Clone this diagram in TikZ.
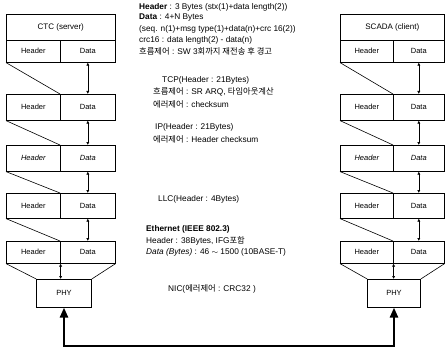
\documentclass[tikz,border=0pt]{standalone}
\usepackage{fontspec}
\setmainfont{Liberation Sans}
\newfontfamily\kr{Noto Sans CJK KR}
\usetikzlibrary{arrows.meta}
\begin{document}
\begin{tikzpicture}[x=1pt,y=-1pt,
  cell/.style={draw, line width=0.6pt, inner sep=0pt, anchor=north west, font=\fontsize{7.5}{8}\selectfont},
  info/.style={anchor=west, inner sep=0pt, font=\fontsize{8.3}{9}\selectfont},
  link/.style={line width=0.6pt},
  dbl/.style={line width=0.6pt, {Latex[length=3pt,width=3.2pt]}-{Latex[length=3pt,width=3.2pt]}},
  wire/.style={line width=2.4pt, {Triangle[length=10pt,width=8pt]}-{Triangle[length=10pt,width=8pt]}}
]
\useasboundingbox (0,0) rectangle (445,353);
% titles
\node[cell, minimum width=109, minimum height=26, font=\fontsize{8}{9}\selectfont] (ltitle) at (6,14) {CTC (server)};
\node[cell, minimum width=104, minimum height=26, font=\fontsize{8}{9}\selectfont] (rtitle) at (340,14) {SCADA (client)};
% rows
\foreach \i/\t/\h/\f in {1/40/22/\upshape,2/94/26/\upshape,3/145/26/\itshape,4/193/25/\upshape,5/241/22/\upshape} {
  \node[cell, minimum width=54, minimum height=\h] (lh\i) at (6,\t) {\f Header};
  \node[cell, minimum width=55, minimum height=\h] (ld\i) at (60,\t) {\f Data};
  \node[cell, minimum width=53, minimum height=\h] (rh\i) at (340,\t) {\f Header};
  \node[cell, minimum width=51, minimum height=\h] (rd\i) at (393,\t) {\f Data};
}
% PHY
\node[cell, anchor=north, minimum width=55, minimum height=28] (lphy) at (64,279) {PHY};
\node[cell, anchor=north, minimum width=53, minimum height=28] (rphy) at (394,279) {PHY};
% connectors between rows
\foreach \i [evaluate=\i as \j using int(\i+1)] in {1,...,4} {
  \draw[link] (lh\i.south west) -- (ld\j.north west);
  \draw[dbl] (ld\i.south) -- (ld\j.north);
  \draw[link] (rh\i.south west) -- (rd\j.north west);
  \draw[dbl] (rd\i.south) -- (rd\j.north);
}
% row 5 to PHY
\draw[link] (lh5.south west) -- (lphy.north west);
\draw[link] (ld5.south east) -- (lphy.north east);
\draw[dbl] (lh5.south east) -- (lh5.south east |- lphy.north);
\draw[link] (rh5.south west) -- (rphy.north west);
\draw[link] (rd5.south east) -- (rphy.north east);
\draw[dbl] (rh5.south east) -- (rh5.south east |- rphy.north);
% physical link
\coordinate (base) at (0,346);
\draw[wire] (lphy.south) -- (lphy.south |- base) -- (rphy.south |- base) -- (rphy.south);
% texts
\node[info] (t1) at (139,7) {\textbf{Header} : 3 Bytes (stx(1)+data length(2))};
\node[info] (t2) at (139,18) {\textbf{Data} : 4+N Bytes};
\node[info] (t3) at (139,29) {(seq. n(1)+msg type(1)+data(n)+crc 16(2))};
\node[info] (t4) at (139,40) {crc16 : data length(2) - data(n)};
\node[info] (t5) at (139,51) {{\kr 흐름제어} : SW 3{\kr 회까지 재전송 후 경고}};
\node[info] (t6) at (162,80) {TCP(Header : 21Bytes)};
\node[info] (t7) at (153,92) {{\kr 흐름제어} : SR ARQ, {\kr 타임아웃계산}};
\node[info] (t8) at (153,104) {{\kr 에러제어} : checksum};
\node[info] (t9) at (155,127) {IP(Header : 21Bytes)};
\node[info] (t10) at (153,139) {{\kr 에러제어} : Header checksum};
\node[info] (t11) at (158,199) {LLC(Header : 4Bytes)};
\node[info] (t12) at (146,229) {\textbf{Ethernet (IEEE 802.3)}};
\node[info] (t13) at (146,241) {Header : 38Bytes, IFG{\kr 포함}};
\node[info] (t14) at (146,252) {\textit{Data (Bytes)} : 46 $\sim$ 1500 (10BASE-T)};
\node[info] (t15) at (168,289) {NIC({\kr 에러제어} : CRC32 )};
\end{tikzpicture}
\end{document}
